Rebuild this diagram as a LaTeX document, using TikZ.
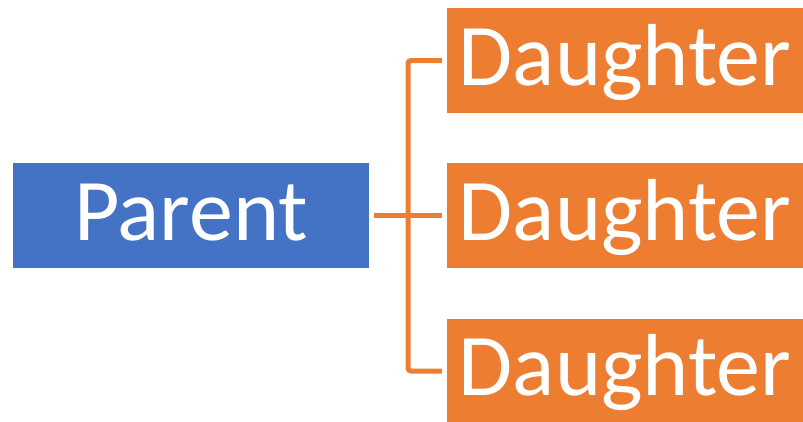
\documentclass[tikz,border=0pt]{standalone}
\usepackage{fontspec}
\setmainfont{Carlito}
\definecolor{parentblue}{HTML}{4472C4}
\definecolor{daughterorange}{HTML}{ED7D31}

\begin{document}
\begin{tikzpicture}[x=1pt,y=-1pt,
  box/.style = {minimum width=356pt,minimum height=105pt,inner sep=0pt,text=white,text height=70pt,text depth=21pt,font=\fontsize{88}{100}\selectfont},
  parentbox/.style = {box,fill=parentblue},
  daughterbox/.style = {box,fill=daughterorange},
  link/.style = {draw=daughterorange,line width=5pt,rounded corners=3pt}]
\useasboundingbox (0,0) rectangle (803,421);
\node (P) at (191,215.5) [parentbox] {Parent};
\node (D1) at (625,60.5) [daughterbox] {Daughter};
\node (D2) at (625,215.5) [daughterbox] {Daughter};
\node (D3) at (625,371) [daughterbox] {Daughter};
\coordinate (bus) at (408,215.5);
\draw [link] ([xshift=5pt]P.east) -- ([xshift=-5pt]D2.west);
\draw [link] ([xshift=-5pt]D1.west) -| (bus) |- ([xshift=-5pt]D3.west);

\end{tikzpicture}
\end{document}
